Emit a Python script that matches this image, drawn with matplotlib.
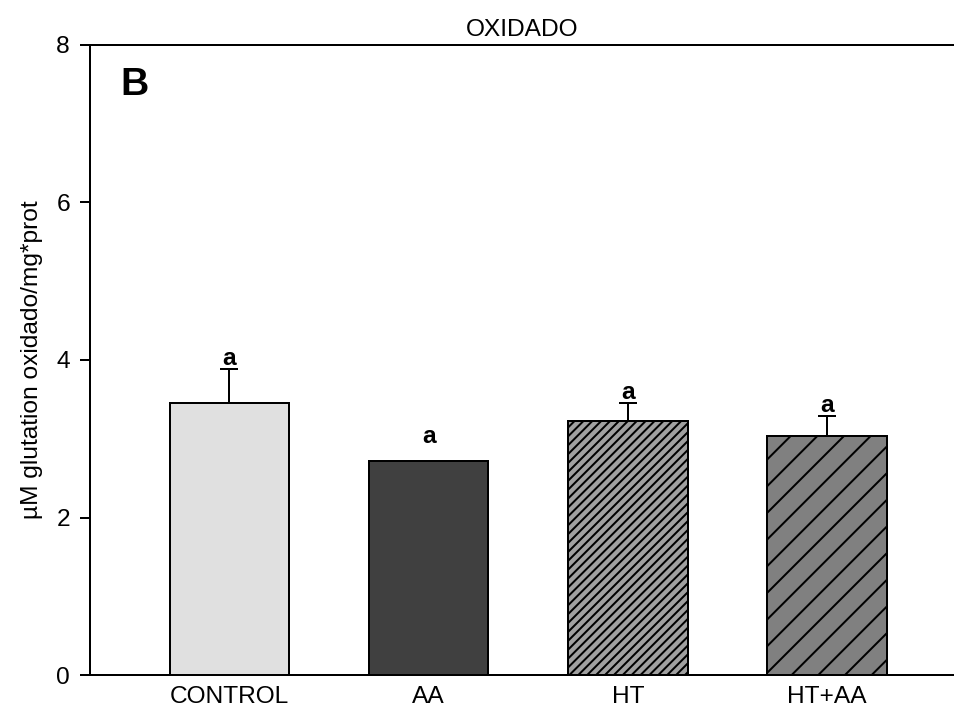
import matplotlib
matplotlib.use("Agg")
import matplotlib.pyplot as plt
import numpy as np

categories = ["CONTROL", "AA", "HT", "HT+AA"]
values = [3.46, 2.72, 3.22, 3.04]
errors = [0.43, 0.0, 0.24, 0.25]
sig_labels = ["a", "a", "a", "a"]
yticks = [0, 2, 4, 6, 8]

colors = ["#e0e0e0", "#404040", "#a0a0a0", "#808080"]
hatches = ["", "", "//////", "//"]

DPI = 160
plt.rcParams['font.family'] = ['Liberation Sans', 'DejaVu Sans']
plt.rcParams['hatch.linewidth'] = 0.9
plt.rcParams['hatch.color'] = 'black'

fig = plt.figure(figsize=(954 / DPI, 710 / DPI), dpi=DPI)
ax = fig.add_axes([90 / 954, 1 - 675 / 710, 1 - 90 / 954, (675 - 45) / 710])

x = np.arange(len(categories))
bars = ax.bar(x, values, width=0.6, color=colors, edgecolor='black', linewidth=0.9, zorder=2)
for b, h in zip(bars, hatches):
    b.set_hatch(h)

for xi, v, e in zip(x, values, errors):
    if e > 0:
        ax.errorbar(xi, v, yerr=[[0], [e]], fmt='none', ecolor='black',
                    elinewidth=0.9, capsize=4, capthick=0.9, zorder=3)

for xi, v, e, s in zip(x, values, errors, sig_labels):
    off = 1.6 if e > 0 else 7.8
    ax.annotate(s, (xi, v + e), xytext=(0, off), textcoords='offset points',
                ha='center', va='baseline', fontsize=11, fontweight='bold')

ax.set_xlim(-0.699, 3.636)
ax.set_ylim(0, 8)
ax.set_yticks(yticks)
ax.set_xticks(x)
ax.set_xticklabels(categories)
ax.tick_params(axis='y', direction='out', length=4.5, width=0.9, pad=4.5, labelsize=11)
ax.tick_params(axis='x', length=0, pad=5, labelsize=11)

for sp in ['left', 'bottom', 'top']:
    ax.spines[sp].set_linewidth(0.9)
ax.spines['right'].set_visible(False)

ax.set_title("OXIDADO", fontsize=11, pad=4)
ax.set_ylabel("µM glutation oxidado/mg*prot", fontsize=11, labelpad=6)
ax.text(0.035, 0.9206, "B", transform=ax.transAxes, fontsize=17.6,
        fontweight='bold', va='baseline', ha='left')

fig.savefig("out.png", dpi=DPI)
